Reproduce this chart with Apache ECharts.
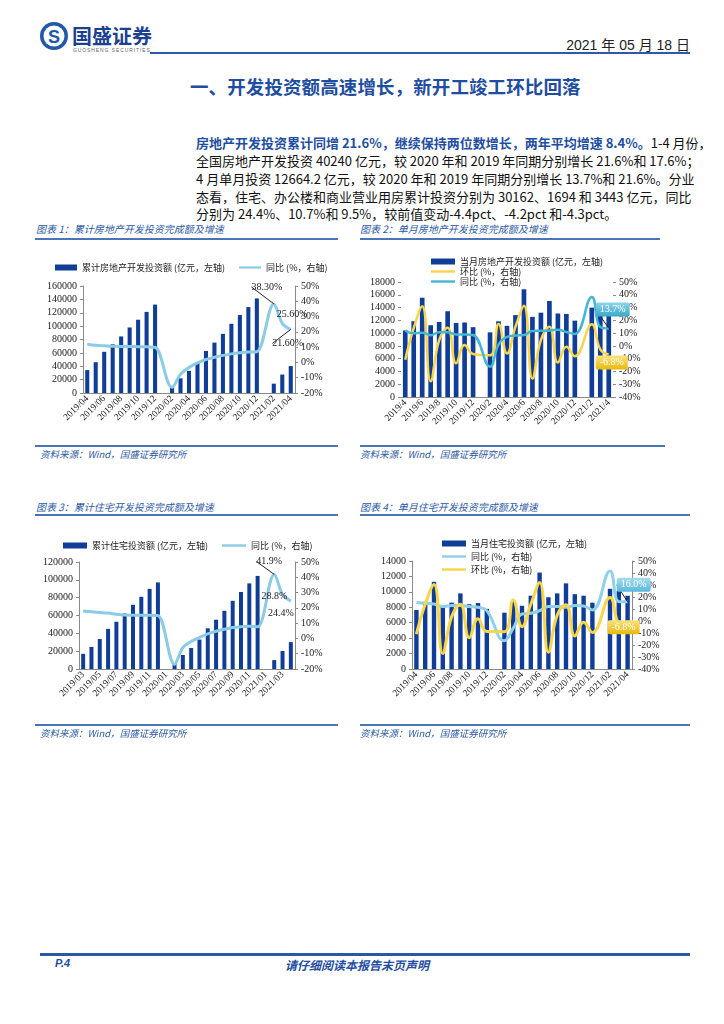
<!DOCTYPE html>
<html><head><meta charset="utf-8">
<script src="https://cdn.jsdelivr.net/npm/echarts/dist/echarts.min.js"></script>
<style>
body{margin:0;background:#fff;}
#page{position:relative;width:724px;height:1024px;overflow:hidden;font-family:'Noto Sans CJK SC',sans-serif;background:#fff;}
.abs{position:absolute;white-space:nowrap;}
.ctitle{position:absolute;white-space:nowrap;font-size:10px;font-style:italic;color:#2d5aa5;}
.hline{position:absolute;background:#4a73b8;height:2px;}
.src{position:absolute;white-space:nowrap;font-size:9.5px;font-style:italic;color:#2d5aa5;}
.para{position:absolute;left:196px;width:494px;font-size:13px;line-height:17px;color:#111;text-align:justify;text-align-last:justify;white-space:nowrap;}
.chart{position:absolute;}
</style></head>
<body>
<div id="page">
  <svg class="abs" style="left:39px;top:21px" width="30" height="30" viewBox="0 0 30 30">
    <circle cx="15" cy="15" r="14" fill="#2258a8"/>
    <circle cx="15" cy="15" r="10.5" fill="#fff"/>
    <text x="15" y="21.5" text-anchor="middle" font-size="18" font-weight="bold" fill="#2258a8" font-family="Liberation Sans">S</text>
  </svg>
  <div class="abs" style="left:72px;top:21px;font-size:20px;font-weight:bold;color:#1d3f8f;">国盛证券</div>
  <div class="abs" style="left:73px;top:47px;font-size:5px;color:#666;letter-spacing:0.9px;font-family:'Liberation Sans'">GUOSHENG SECURITIES</div>
  <div class="abs" style="right:34px;top:34px;font-size:14px;color:#222;font-family:'Liberation Sans','Noto Sans CJK SC'">2021 年 05 月 18 日</div>
  <div class="abs" style="left:150px;top:52px;width:540px;height:2px;background:#2c5aa6"></div>
  <div class="abs" style="left:190px;top:73px;font-size:18.5px;font-weight:bold;color:#1f4ea0;letter-spacing:0.1px">一、开发投资额高速增长，新开工竣工环比回落</div>

  <div class="para" style="top:134px"><b style="color:#1f4ea0">房地产开发投资累计同增 21.6%，继续保持两位数增长，两年平均增速 8.4%。</b>1-4 月份，</div>
  <div class="para" style="top:152px">全国房地产开发投资 40240 亿元，较 2020 年和 2019 年同期分别增长 21.6%和 17.6%；</div>
  <div class="para" style="top:170px">4 月单月投资 12664.2 亿元，较 2020 年和 2019 年同期分别增长 13.7%和 21.6%。分业</div>
  <div class="para" style="top:188px">态看，住宅、办公楼和商业营业用房累计投资分别为 30162、1694 和 3443 亿元，同比</div>
  <div class="para" style="top:205px;text-align-last:left">分别为 24.4%、10.7%和 9.5%，较前值变动-4.4pct、-4.2pct 和-4.3pct。</div>

  <div class="ctitle" style="left:36px;top:221px">图表 1：累计房地产开发投资完成额及增速</div>
  <div class="hline" style="left:35px;top:238px;width:303px"></div>
  <div class="ctitle" style="left:360px;top:221px">图表 2：单月房地产开发投资完成额及增速</div>
  <div class="hline" style="left:360px;top:238px;width:300px"></div>
  <div id="c1" class="chart" style="left:30px;top:245px;width:320px;height:195px"></div>
  <div id="c2" class="chart" style="left:360px;top:245px;width:330px;height:195px"></div>
  <div class="hline" style="left:35px;top:445px;width:303px"></div>
  <div class="hline" style="left:360px;top:445px;width:305px"></div>
  <div class="src" style="left:40px;top:447px">资料来源：Wind，国盛证券研究所</div>
  <div class="src" style="left:360px;top:447px">资料来源：Wind，国盛证券研究所</div>

  <div class="ctitle" style="left:36px;top:499px">图表 3：累计住宅开发投资完成额及增速</div>
  <div class="hline" style="left:35px;top:514px;width:303px"></div>
  <div class="ctitle" style="left:360px;top:499px">图表 4：单月住宅开发投资完成额及增速</div>
  <div class="hline" style="left:360px;top:514px;width:330px"></div>
  <div id="c3" class="chart" style="left:30px;top:525px;width:320px;height:200px"></div>
  <div id="c4" class="chart" style="left:360px;top:525px;width:330px;height:200px"></div>
  <div class="hline" style="left:35px;top:724px;width:303px"></div>
  <div class="hline" style="left:360px;top:724px;width:330px"></div>
  <div class="src" style="left:40px;top:726px">资料来源：Wind，国盛证券研究所</div>
  <div class="src" style="left:360px;top:726px">资料来源：Wind，国盛证券研究所</div>

  <div class="abs" style="left:40px;top:953px;width:650px;height:3px;background:#2a57a6"></div>
  <div class="abs" style="left:55px;top:957px;font-size:11px;font-weight:bold;font-style:italic;color:#1f4ea0;font-family:'Liberation Sans'">P.4</div>
  <div class="abs" style="left:285px;top:956px;font-size:12px;font-weight:bold;font-style:italic;color:#1f4ea0">请仔细阅读本报告末页声明</div>
</div>
<script>
// ---------- data ----------
const cat1 = ['2019/04','2019/05','2019/06','2019/07','2019/08','2019/09','2019/10','2019/11','2019/12','2020/01','2020/02','2020/03','2020/04','2020/05','2020/06','2020/07','2020/08','2020/09','2020/10','2020/11','2020/12','2021/01','2021/02','2021/03','2021/04'];
const cumInvest = [34217,46075,61609,72843,84589,98008,109603,121265,132194,null,10115,21963,33103,45920,62780,75325,88454,103484,116556,128492,141443,null,13986,27576,40240];
const cumInvestYoY = [11.9,11.2,10.9,10.6,10.5,10.5,10.3,10.2,9.9,null,-16.3,-7.7,-3.3,-0.3,1.9,3.4,4.6,5.6,6.3,6.8,7.0,null,38.3,25.6,21.6];

const cat2 = ['2019/4','2019/5','2019/6','2019/7','2019/8','2019/9','2019/10','2019/11','2019/12','2020/1','2020/2','2020/3','2020/4','2020/5','2020/6','2020/7','2020/8','2020/9','2020/10','2020/11','2020/12','2021/1','2021/2','2021/3','2021/4'];
const monthInvest = [10414,11858,15534,11234,11746,13419,11595,11662,10929,null,10115,11848,11140,12817,16860,12545,13200,15030,13072,13000,11950,null,13986,13590,12664];
const monthInvestMoM = [-10.8,13.9,31.0,-27.7,4.6,14.2,-13.6,0.6,-6.3,null,-7.4,17.1,-6.0,15.1,31.5,-25.6,4.7,15.0,-13.0,-0.6,-8.1,null,17.0,-2.8,-6.8];
const monthInvestYoY = [11.9,9.8,10.3,8.4,10.6,10.6,9.0,9.0,8.5,null,-16.3,1.0,7.0,8.1,8.5,11.7,11.8,12.0,12.7,10.9,9.3,null,38.3,14.7,13.7];

const cat3 = ['2019/03','2019/04','2019/05','2019/06','2019/07','2019/08','2019/09','2019/10','2019/11','2019/12','2020/01','2020/02','2020/03','2020/04','2020/05','2020/06','2020/07','2020/08','2020/09','2020/10','2020/11','2020/12','2021/01','2021/02','2021/03','2021/04'];
const cumRes = [17000,24800,33600,45000,53000,62300,72000,81000,89900,97100,null,6500,15700,23600,33000,45600,55300,65300,76500,86400,96000,104400,null,10000,20200,30162];
const cumResYoY = [18.0,17.4,17.0,16.6,15.8,15.3,15.2,15.2,15.2,15.0,null,-17.0,-6.0,-2.0,0.6,3.0,4.7,6.0,7.1,7.7,8.0,7.6,null,41.9,28.8,24.4];

const cat4 = ['2019/04','2019/05','2019/06','2019/07','2019/08','2019/09','2019/10','2019/11','2019/12','2020/01','2020/02','2020/03','2020/04','2020/05','2020/06','2020/07','2020/08','2020/09','2020/10','2020/11','2020/12','2021/01','2021/02','2021/03','2021/04'];
const monthRes = [7650,8700,11300,8300,8600,9800,8400,8550,7800,null,7300,8800,8200,9500,12500,9300,9800,11100,9700,9500,8600,null,10400,10100,9500];
const monthResYoY = [15.5,14.7,14.2,12.0,13.0,13.0,12.0,11.4,8.6,null,-16.4,-6.0,5.8,6.4,8.6,12.0,12.0,11.4,13.0,12.5,9.2,null,41.7,16.1,16.0];
const monthResMoM = [-11.0,14.0,30.5,-27.0,3.6,14.0,-14.0,1.8,-8.8,null,-9.0,17.5,-4.7,14.0,32.0,-26.0,5.0,13.5,-12.5,-1.0,-9.5,null,19.5,-3.0,-6.8];

// ---------- styles ----------
const BAR = '#0f3d97';
const NUMFONT = 'Liberation Serif';
const CJK = 'Noto Sans CJK SC';
const axisGray = '#8a8a8a';
const LINE_ICON = 'path://M0,0H40V4H0Z';

function xAxisCfg(cats){
  return {type:'category', data:cats,
    axisLine:{show:true,lineStyle:{color:axisGray}}, axisTick:{show:false},
    axisLabel:{rotate:45, interval:1, fontSize:9.5, color:'#222', margin:4, fontFamily:NUMFONT}};
}
function yAxisCfg(min,max,interval,pct,showLine){
  return {type:'value', min:min, max:max, interval:interval,
    axisLine:{show:showLine,lineStyle:{color:axisGray}},
    axisTick:{show:true,length:3,lineStyle:{color:axisGray}},
    splitLine:{show:false},
    axisLabel:{fontSize:10, color:'#222', margin:6, fontFamily:NUMFONT,
      formatter: function(v){ return pct ? String(v) + '%' : String(v); }}};
}
function labeled(arr, specs){
  return arr.map(function(v,i){
    const s = specs[i];
    if(!s || v===null) return v;
    return {value:v, label:Object.assign({show:true}, s.label), labelLine:{show:!!s.line, lineStyle:{color:'#222',width:1}}};
  });
}
function layoutFn(specs){
  return function(p){ const s = specs[p.dataIndex]; return s ? {dx:s.dx, dy:s.dy} : {}; };
}
const plainLbl = {position:'inside', fontSize:10, color:'#222', fontFamily:NUMFONT};
function boxLbl(c1,c2){
  return {position:'inside', fontSize:10, color:'#fff', fontFamily:NUMFONT, padding:[2,4], borderRadius:2,
    backgroundColor:{type:'linear',x:0,y:0,x2:0,y2:1,colorStops:[{offset:0,color:c1},{offset:1,color:c2}]}};
}
function legendText(){ return {fontSize:9, color:'#222', fontFamily:CJK}; }

// ---------- chart 1 ----------
const s1 = {22:{label:Object.assign({formatter:'38.30%'},plainLbl),dx:-7,dy:-17,line:true},
            23:{label:Object.assign({formatter:'25.60%'},plainLbl),dx:10,dy:-9},
            24:{label:Object.assign({formatter:'21.60%'},plainLbl),dx:-3,dy:14,line:true}};
echarts.init(document.getElementById('c1')).setOption({
  animation:false,
  grid:{left:53,right:55,top:41,bottom:47},
  legend:{top:13,left:20,itemGap:14,itemWidth:22,itemHeight:6,textStyle:legendText(),
    data:[{name:'累计房地产开发投资额 (亿元，左轴)',icon:'rect'},{name:'同比 (%，右轴)',icon:LINE_ICON,itemStyle:{color:'#8bcbe6'}}]},
  xAxis:xAxisCfg(cat1),
  yAxis:[yAxisCfg(0,160000,20000,false,true), yAxisCfg(-20,50,10,true,true)],
  series:[
    {type:'bar',name:'累计房地产开发投资额 (亿元，左轴)',data:cumInvest,barWidth:'48%',itemStyle:{color:BAR}},
    {type:'line',name:'同比 (%，右轴)',yAxisIndex:1,data:labeled(cumInvestYoY,s1),smooth:0.35,connectNulls:true,
     symbol:'circle',symbolSize:0,showSymbol:true,lineStyle:{width:3,color:'#8bcbe6'},itemStyle:{color:'#8bcbe6'},
     labelLayout:layoutFn(s1)}
  ]
});

// ---------- chart 2 ----------
const s2y = {24:{label:Object.assign({formatter:'13.7%'},boxLbl('#8fd6ea','#3aa8c9')),dx:4,dy:-19,line:true}};
const s2m = {24:{label:Object.assign({formatter:'-6.8%'},boxLbl('#f9e37c','#e9b90a')),dx:3,dy:8}};
echarts.init(document.getElementById('c2')).setOption({
  animation:false,
  grid:{left:41,right:77,top:37,bottom:43},
  legend:{orient:'vertical',top:7,left:66,itemGap:1,itemWidth:24,itemHeight:6,textStyle:legendText(),
    data:[{name:'当月房地产开发投资额 (亿元，左轴)',icon:'rect'},
          {name:'环比 (%，右轴)',icon:LINE_ICON,itemStyle:{color:'#f7d54c'}},
          {name:'同比 (%，右轴)',icon:LINE_ICON,itemStyle:{color:'#45b6d3'}}]},
  xAxis:xAxisCfg(cat2),
  yAxis:[yAxisCfg(0,18000,2000,false,false), yAxisCfg(-40,50,10,true,false)],
  series:[
    {type:'bar',name:'当月房地产开发投资额 (亿元，左轴)',data:monthInvest,barWidth:'55%',itemStyle:{color:BAR}},
    {type:'line',name:'环比 (%，右轴)',yAxisIndex:1,data:labeled(monthInvestMoM,s2m),smooth:0.45,connectNulls:true,
     symbol:'circle',symbolSize:0,lineStyle:{width:2.5,color:'#f7d54c'},itemStyle:{color:'#f7d54c'},labelLayout:layoutFn(s2m)},
    {type:'line',name:'同比 (%，右轴)',yAxisIndex:1,data:labeled(monthInvestYoY,s2y),smooth:0.45,connectNulls:true,
     symbol:'circle',symbolSize:0,lineStyle:{width:2.5,color:'#45b6d3'},itemStyle:{color:'#45b6d3'},labelLayout:layoutFn(s2y)}
  ]
});

// ---------- chart 3 ----------
const s3 = {23:{label:Object.assign({formatter:'41.9%'},plainLbl),dx:-5,dy:-13,line:true},
            24:{label:Object.assign({formatter:'28.8%'},plainLbl),dx:-8,dy:2},
            25:{label:Object.assign({formatter:'24.4%'},plainLbl),dx:-10,dy:12}};
echarts.init(document.getElementById('c3')).setOption({
  animation:false,
  grid:{left:49,right:55,top:37,bottom:56},
  legend:{top:11,left:28,itemGap:14,itemWidth:24,itemHeight:6,textStyle:legendText(),
    data:[{name:'累计住宅投资额 (亿元，左轴)',icon:'rect'},{name:'同比 (%，右轴)',icon:LINE_ICON,itemStyle:{color:'#8bcbe6'}}]},
  xAxis:xAxisCfg(cat3),
  yAxis:[yAxisCfg(0,120000,20000,false,true), yAxisCfg(-20,50,10,true,true)],
  series:[
    {type:'bar',name:'累计住宅投资额 (亿元，左轴)',data:cumRes,barWidth:'48%',itemStyle:{color:BAR}},
    {type:'line',name:'同比 (%，右轴)',yAxisIndex:1,data:labeled(cumResYoY,s3),smooth:0.35,connectNulls:true,
     symbol:'circle',symbolSize:0,lineStyle:{width:3,color:'#8bcbe6'},itemStyle:{color:'#8bcbe6'},labelLayout:layoutFn(s3)}
  ]
});

// ---------- chart 4 ----------
const s4y = {24:{label:Object.assign({formatter:'16.0%'},boxLbl('#a6dcee','#5ab7db')),dx:6,dy:-17,line:true}};
const s4m = {24:{label:Object.assign({formatter:'-6.8%'},boxLbl('#f9e37c','#e9b90a')),dx:-4,dy:-2}};
echarts.init(document.getElementById('c4')).setOption({
  animation:false,
  grid:{left:52,right:58,top:36,bottom:56},
  legend:{orient:'vertical',top:9,left:77,itemGap:4,itemWidth:24,itemHeight:6,textStyle:legendText(),
    data:[{name:'当月住宅投资额 (亿元，左轴)',icon:'rect'},
          {name:'同比 (%，右轴)',icon:LINE_ICON,itemStyle:{color:'#8fd0ea'}},
          {name:'环比 (%，右轴)',icon:LINE_ICON,itemStyle:{color:'#f8d64a'}}]},
  xAxis:xAxisCfg(cat4),
  yAxis:[yAxisCfg(0,14000,2000,false,true), yAxisCfg(-40,50,10,true,true)],
  series:[
    {type:'bar',name:'当月住宅投资额 (亿元，左轴)',data:monthRes,barWidth:'50%',itemStyle:{color:BAR}},
    {type:'line',name:'同比 (%，右轴)',yAxisIndex:1,data:labeled(monthResYoY,s4y),smooth:0.45,connectNulls:true,
     symbol:'circle',symbolSize:0,lineStyle:{width:3,color:'#8fd0ea'},itemStyle:{color:'#8fd0ea'},labelLayout:layoutFn(s4y)},
    {type:'line',name:'环比 (%，右轴)',yAxisIndex:1,data:labeled(monthResMoM,s4m),smooth:0.45,connectNulls:true,
     symbol:'circle',symbolSize:0,lineStyle:{width:3,color:'#f8d64a'},itemStyle:{color:'#f8d64a'},labelLayout:layoutFn(s4m)}
  ]
});
</script>
</body></html>
